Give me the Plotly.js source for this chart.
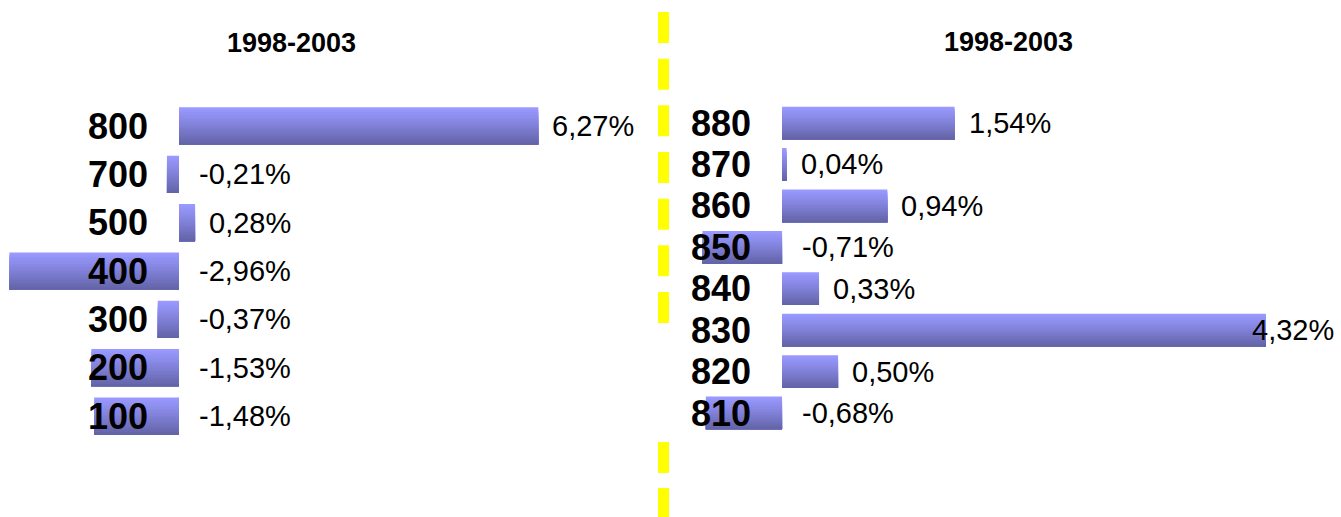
<!DOCTYPE html>
<html><head><meta charset="utf-8">
<script src="https://cdn.plot.ly/plotly-3.0.1.min.js"></script>
<style>html,body{margin:0;padding:0;background:#fff;overflow:hidden}#chart{width:1341px;height:517px}</style>
</head><body><div id="chart"></div>
<script>
const titleLeft = '1998-2003';
const titleRight = '1998-2003';
const leftCategories = ['800','700','500','400','300','200','100'];
const leftValues = [6.27, -0.21, 0.28, -2.96, -0.37, -1.53, -1.48];
const rightCategories = ['880','870','860','850','840','830','820','810'];
const rightValues = [1.54, 0.04, 0.94, -0.71, 0.33, 4.32, 0.50, -0.68];

const W = 1341, H = 517;
const FONT = 'Liberation Sans, Arial, sans-serif';
const fmt = v => v.toFixed(2).replace('.', ',') + '%';

const light = [153,153,255], mid = [128,128,216], dark = [100,100,168];
const BANDS = 16;
function mix(a,b,t){ return 'rgb(' + a.map((c,i)=>Math.round(c+(b[i]-c)*t)).join(',') + ')'; }
function bandColor(t){ return t < 0.5 ? mix(light, mid, t/0.5) : mix(mid, dark, (t-0.5)/0.5); }

function bandTraces(cats, vals, xa, ya, width){
  const tr = [];
  const bw = width / BANDS;
  for (let i = 0; i < BANDS; i++){
    tr.push({
      type:'bar', orientation:'h', x: vals, y: cats, xaxis: xa, yaxis: ya,
      width: width - i*bw, offset: -width/2 + i*bw,
      marker:{color: bandColor(i/(BANDS-1)), line:{width:0}},
      hoverinfo:'skip', showlegend:false
    });
  }
  return tr;
}

// axis geometry
const leftRange = [-3.124, 8.22], rightRange = [-0.911, 4.99];
const leftDomain = [0, 650/W], rightDomain = [680/W, 1];
const leftPxPerUnit = 650 / (leftRange[1]-leftRange[0]);
const rightPxPerUnit = (W-680) / (rightRange[1]-rightRange[0]);

function valueAnnotations(cats, vals, xref, yref, range, pxPerUnit){
  const labelW = 84;
  return vals.map((v, i) => {
    const base = Math.max(v, 0);
    const shift = v >= 0 ? 12 : 18;
    const overflow = base + (shift + labelW) / pxPerUnit > range[1];
    return {
      x: overflow ? range[1] : base, y: i, xref, yref,
      xanchor: overflow ? 'right' : 'left', yanchor:'middle', xshift: overflow ? -5 : shift,
      text: fmt(v), showarrow:false,
      font:{family: FONT, size: 29, color:'#000'}
    };
  });
}

const data = [].concat(
  bandTraces(leftCategories, leftValues, 'x', 'y', 0.77),
  bandTraces(rightCategories, rightValues, 'x2', 'y2', 0.79)
);

const yCommon = {
  type:'category', showgrid:false, zeroline:false, showline:false, ticks:'',
  ticklabelstandoff: 31, anchor:'free', side:'left', fixedrange:true, tickmode:'array',
  tickfont:{family: FONT, size: 36, color:'#000', weight: 'bold'}
};
const xCommon = {showgrid:false, zeroline:false, showline:false, showticklabels:false, ticks:'', fixedrange:true};

const layout = {
  width: W, height: H,
  margin:{l:0, r:0, t:0, b:0},
  paper_bgcolor:'#fff', plot_bgcolor:'rgba(0,0,0,0)',
  barmode:'overlay', showlegend:false,
  xaxis: Object.assign({}, xCommon, {domain: leftDomain, range: leftRange, anchor:'y'}),
  xaxis2: Object.assign({}, xCommon, {domain: rightDomain, range: rightRange, anchor:'y2'}),
  yaxis: Object.assign({}, yCommon, {domain:[(H-440.2)/H, (H-101.8)/H], range:[6.5,-0.5],
    categoryorder:'array', categoryarray: leftCategories, tickvals: leftCategories, ticktext: leftCategories,
    position: 179/W}),
  yaxis2: Object.assign({}, yCommon, {domain:[(H-433.7)/H, (H-102.3)/H], range:[7.5,-0.5],
    categoryorder:'array', categoryarray: rightCategories, tickvals: rightCategories, ticktext: rightCategories,
    position: 782/W}),
  annotations: [
    {text: titleLeft, xref:'paper', yref:'paper', x: 291/W, y: (H-43)/H, xanchor:'center', yanchor:'middle',
     showarrow:false, font:{family: FONT, size: 27, color:'#000', weight:'bold'}},
    {text: titleRight, xref:'paper', yref:'paper', x: 1008/W, y: (H-42)/H, xanchor:'center', yanchor:'middle',
     showarrow:false, font:{family: FONT, size: 27, color:'#000', weight:'bold'}}
  ].concat(
    valueAnnotations(leftCategories, leftValues, 'x', 'y', leftRange, leftPxPerUnit),
    valueAnnotations(rightCategories, rightValues, 'x2', 'y2', rightRange, rightPxPerUnit)
  ),
  shapes: [
    {type:'line', xref:'paper', yref:'paper', x0: 663.5/W, x1: 663.5/W, y0: (H-12)/H, y1: (H-323)/H,
     line:{color:'#ffff00', width:11, dash:'31px,15.67px'}},
    {type:'line', xref:'paper', yref:'paper', x0: 663.5/W, x1: 663.5/W, y0: (H-442)/H, y1: 0,
     line:{color:'#ffff00', width:11, dash:'31px,15px'}}
  ]
};

Plotly.newPlot('chart', data, layout, {staticPlot:true, displayModeBar:false});
</script>
</body></html>
